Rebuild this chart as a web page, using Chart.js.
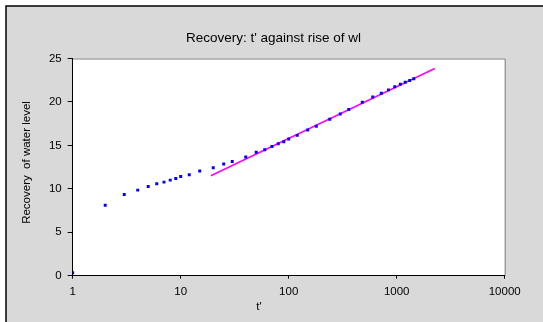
<!DOCTYPE html>
<html>
<head>
<meta charset="utf-8">
<script src="https://cdn.jsdelivr.net/npm/chart.js@4"></script>
<style>
  html, body { margin: 0; padding: 0; background: #fff; }
  canvas { display: block; }
</style>
</head>
<body>
<canvas id="recovery-chart" width="543" height="322"></canvas>
<script>
// time since pumping stopped (min) and recovery of the water level
const tPrime = [1, 2, 3, 4, 5, 6, 7, 8, 9, 10, 12, 15, 20, 25, 30, 40, 50, 60, 70, 80, 90,
  100, 120, 150, 180, 240, 300, 360, 480, 600, 720, 840, 960, 1080, 1200, 1320, 1440];
const rise = [0.35, 8.12, 9.35, 9.85, 10.27, 10.58, 10.77, 11.0, 11.2, 11.42, 11.62, 12.05,
  12.43, 12.85, 13.15, 13.66, 14.2, 14.5, 14.88, 15.2, 15.43, 15.74, 16.15, 16.77, 17.2,
  18.0, 18.62, 19.12, 19.96, 20.58, 21.0, 21.39, 21.74, 22.04, 22.27, 22.46, 22.66];

// straight-line fit through the late-time points
const fitT = [19, 2250];
const fitRise = [11.5, 23.85];

const xTicks = [1, 10, 100, 1000, 10000];

const FONT = '"Liberation Sans", Arial, sans-serif';

const frame = {
  id: 'frame',
  beforeDraw(chart) {
    const { ctx, chartArea: a } = chart;
    ctx.save();
    ctx.fillStyle = '#ffffff';
    ctx.fillRect(0, 0, chart.width, chart.height);
    ctx.fillStyle = '#d9d9d9';
    ctx.fillRect(6, 6, chart.width, chart.height);
    ctx.strokeStyle = '#000';
    ctx.lineWidth = 1.5;
    ctx.beginPath();
    ctx.moveTo(6, chart.height);
    ctx.lineTo(6, 6);
    ctx.lineTo(chart.width, 6);
    ctx.stroke();
    ctx.fillStyle = '#ffffff';
    ctx.fillRect(a.left, a.top, a.right - a.left, a.bottom - a.top);
    ctx.strokeStyle = '#808080';
    ctx.lineWidth = 1;
    ctx.beginPath();
    ctx.moveTo(a.left, a.top + 0.5);
    ctx.lineTo(a.right + 0.5, a.top + 0.5);
    ctx.lineTo(a.right + 0.5, a.bottom);
    ctx.stroke();
    ctx.restore();
  },
  afterDraw(chart) {
    const { ctx } = chart;
    ctx.save();
    ctx.fillStyle = '#000';
    ctx.textAlign = 'center';
    ctx.textBaseline = 'middle';
    ctx.font = '13.5px ' + FONT;
    ctx.fillText("Recovery: t' against rise of wl", 273.5, 38);
    ctx.font = '11.5px ' + FONT;
    ctx.fillText("t'", 259, 306.5);
    ctx.translate(27, 162.5);
    ctx.rotate(-Math.PI / 2);
    ctx.fillText('Recovery  of water level', 0, 0);
    ctx.restore();
  }
};

new Chart(document.getElementById('recovery-chart'), {
  type: 'scatter',
  data: {
    datasets: [
      {
        label: 'Recovery',
        data: tPrime.map((t, i) => ({ x: t, y: rise[i] })),
        pointStyle: 'rect',
        pointRadius: 2.1,
        pointBorderWidth: 0,
        backgroundColor: '#0000ff',
        borderColor: '#0000ff',
      },
      {
        label: 'Fit',
        type: 'line',
        data: fitT.map((t, i) => ({ x: t, y: fitRise[i] })),
        borderColor: '#ff00ff',
        borderWidth: 1.5,
        pointRadius: 0,
        fill: false,
      },
    ],
  },
  options: {
    responsive: false,
    animation: false,
    layout: { padding: { left: 0, right: 38.3, top: 58.5, bottom: 0 } },
    plugins: {
      legend: { display: false },
      tooltip: { enabled: false },
      title: { display: false },
    },
    scales: {
      x: {
        type: 'logarithmic',
        min: 1,
        max: 10000,
        afterBuildTicks: (scale) => {
          scale.ticks = xTicks.map((v) => ({ value: v, major: true }));
        },
        afterFit: (scale) => { scale.height = 46.3; },
        grid: { drawOnChartArea: false, color: '#000', tickLength: 3 },
        border: { color: '#000', width: 1 },
        ticks: {
          color: '#000',
          padding: 6,
          maxRotation: 0,
          font: { family: FONT, size: 11.5 },
          callback: (v) => String(v),
        },
      },
      y: {
        min: 0,
        max: 25,
        afterFit: (scale) => { scale.width = 72.7; },
        grid: { drawOnChartArea: false, color: '#000', tickLength: 5 },
        border: { color: '#000', width: 1 },
        ticks: {
          stepSize: 5,
          color: '#000',
          padding: 6,
          font: { family: FONT, size: 11.5 },
        },
      },
    },
  },
  plugins: [frame],
});
</script>
</body>
</html>
